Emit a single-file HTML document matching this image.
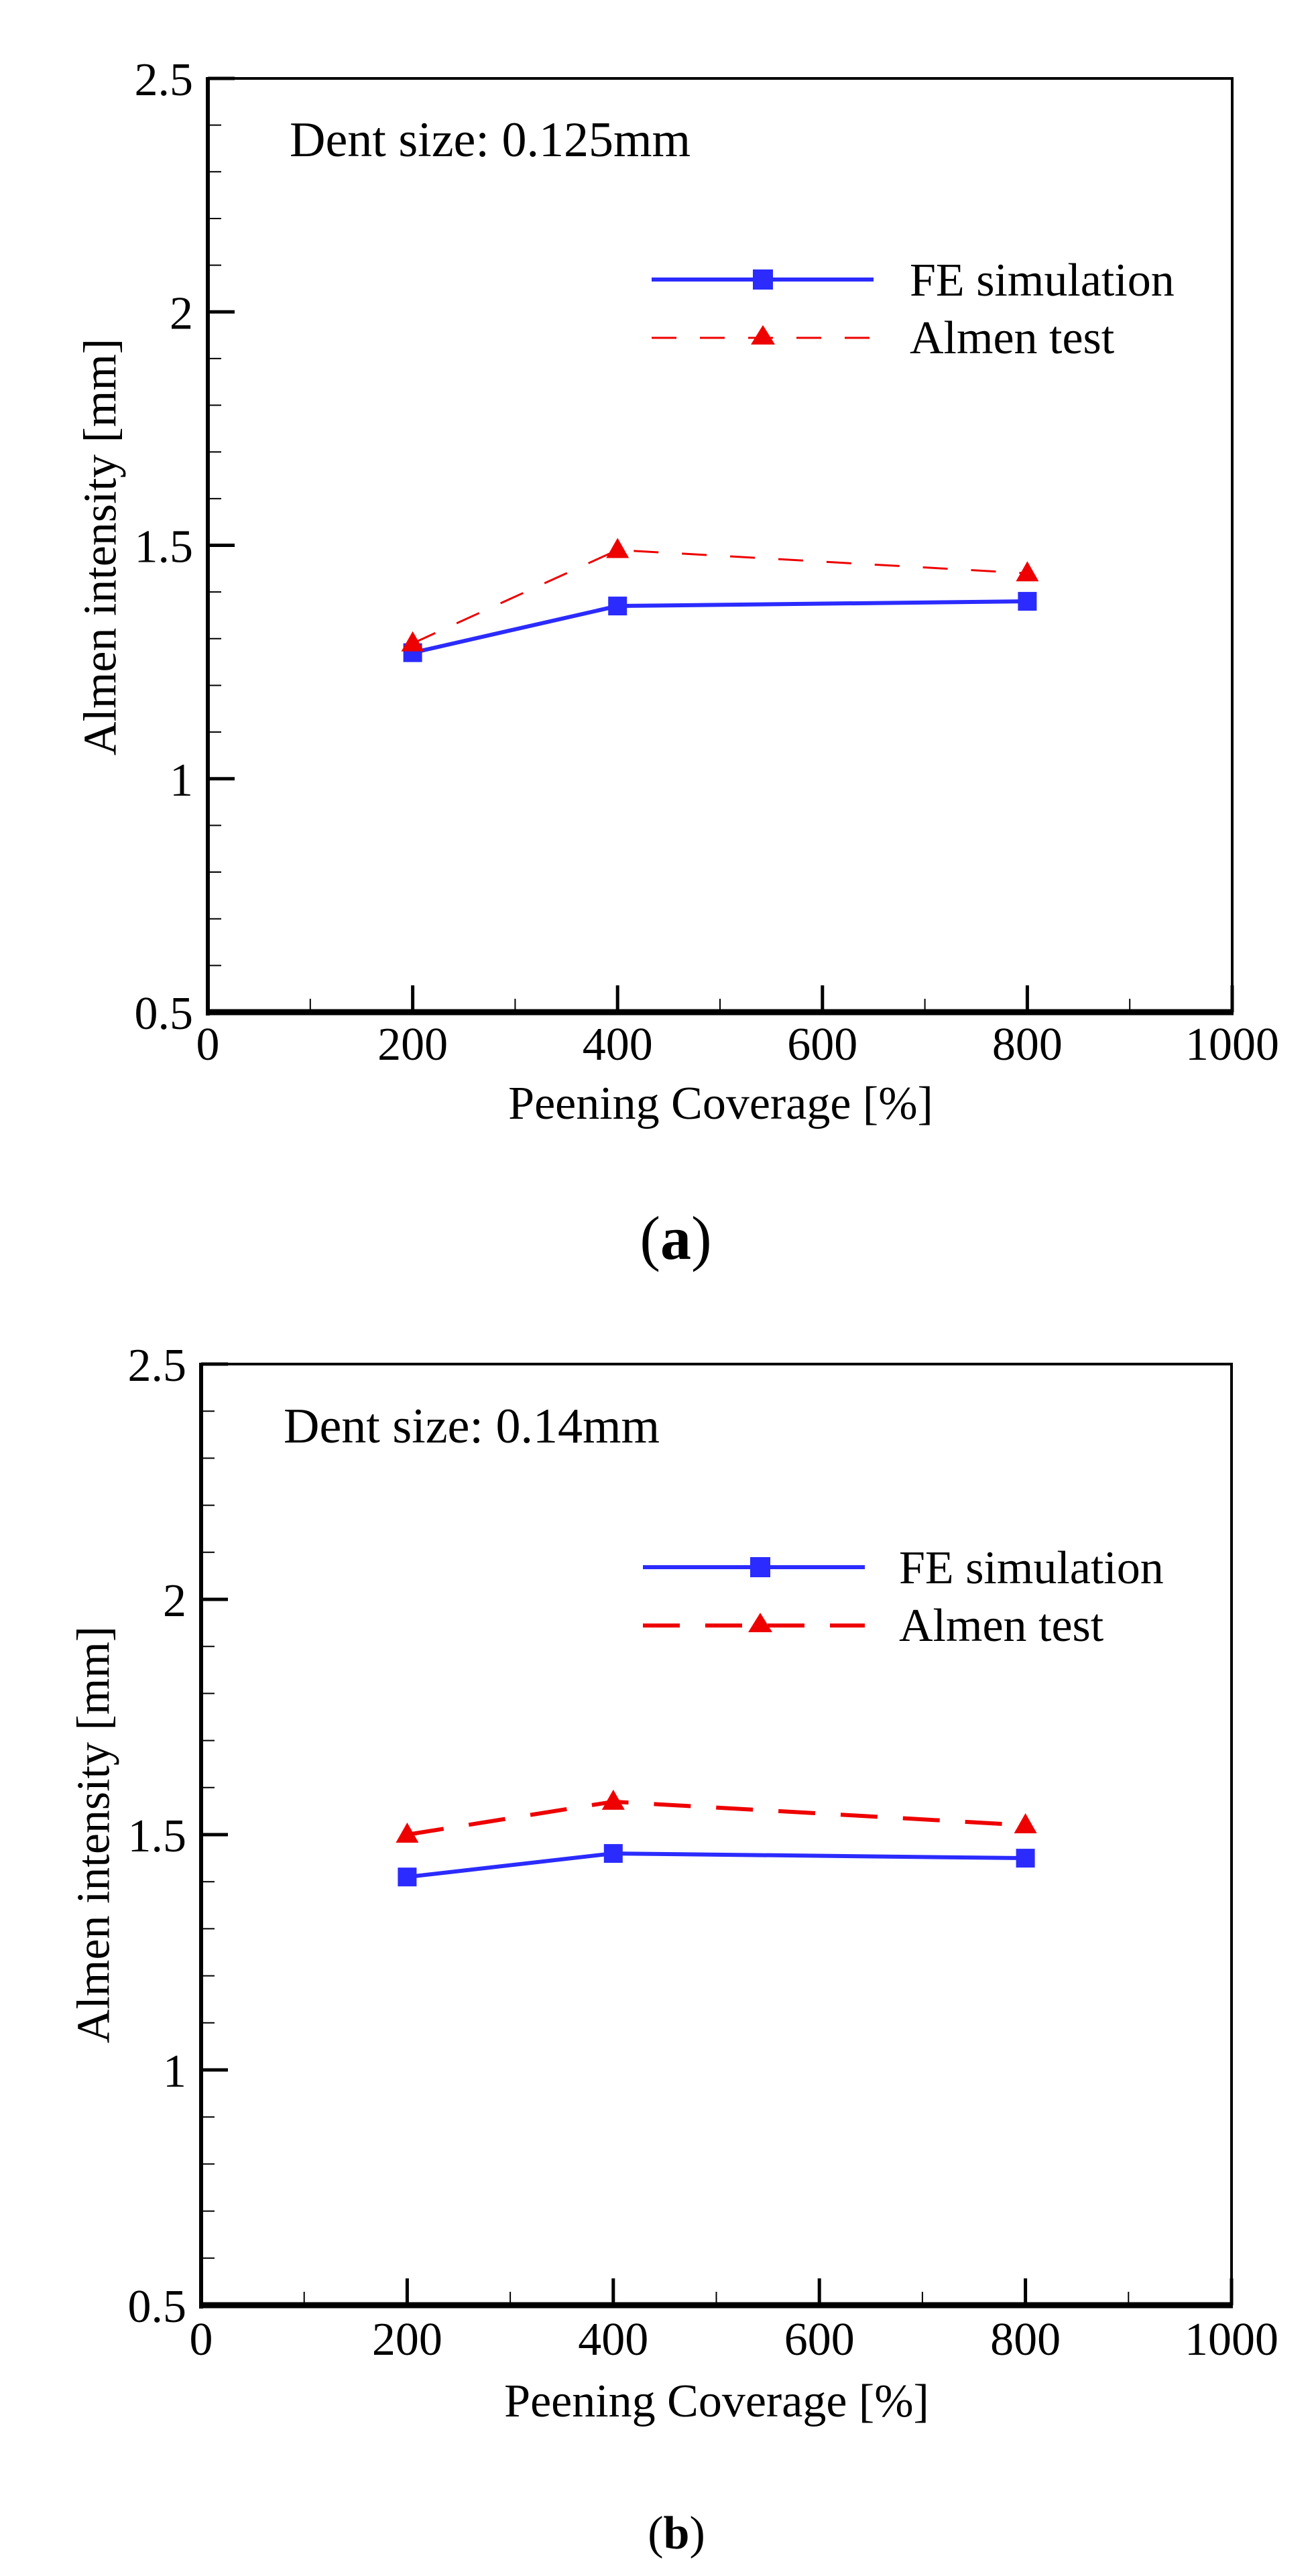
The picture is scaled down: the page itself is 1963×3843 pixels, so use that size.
<!DOCTYPE html>
<html><head><meta charset="utf-8">
<style>
html,body{margin:0;padding:0;background:#fff;}
svg{display:block;}
text{font-family:"Liberation Serif",serif;fill:#000;}
</style></head>
<body>
<svg id="fig" width="1963" height="3843" viewBox="0 0 1963 3843" xmlns="http://www.w3.org/2000/svg"></svg>
<script>
// ---- data ----
const coverage = [200, 400, 800];
const feA = [1.27, 1.37, 1.38];
const almenA = [1.29, 1.49, 1.44];
const feB = [1.41, 1.46, 1.45];
const almenB = [1.50, 1.57, 1.52];
const xTickLabels = ["0","200","400","600","800","1000"];
const yTickLabels = ["0.5","1","1.5","2","2.5"];
const seriesNames = ["FE simulation","Almen test"];
const panelTitles = ["Dent size: 0.125mm","Dent size: 0.14mm"];

const NS = "http://www.w3.org/2000/svg";
const svg = document.getElementById("fig");
function mk(tag, attrs, parent){
  const e = document.createElementNS(NS, tag);
  for (const k in attrs) e.setAttribute(k, attrs[k]);
  (parent||svg).appendChild(e);
  return e;
}

function panel(cfg){
  const g = mk("g", {});
  
  
  const {L,T,R,B} = cfg;
  const xs = v => L + (v-0)/(1000-0)*(R-L);
  const ys = v => B - (v-0.5)/(2.5-0.5)*(B-T);

  const frame = mk("path", {d:`M${L},${T} H${R} V${B}`, fill:"none", stroke:"#000", "stroke-width":4}, g);
  
  
  const yAxis = mk("line", {x1:L, y1:T-2, x2:L, y2:B+5, stroke:"#000", "stroke-width":6}, g);
  
  
  const xAxis = mk("line", {x1:L-3, y1:B, x2:R+2, y2:B, stroke:"#000", "stroke-width":9}, g);
  
  

  for (let v=0; v<=1000; v+=100){
    const major = v%200===0;
    const t = mk("line", {x1:xs(v), x2:xs(v), y1:B, y2:B-(major?40:20), stroke:"#000", "stroke-width":major?5:2}, g);
    
    
  }
  xTickLabels.forEach((lab)=>{
    const v = parseFloat(lab);
    const t = mk("text", {x:xs(v), y:cfg.xLabY, "font-size":70, "text-anchor":"middle"}, g);
    t.textContent = lab;
    
    
  });
  for (let i=0;i<=20;i++){
    const v = 0.5 + i*0.1;
    const major = i%5===0;
    const t = mk("line", {x1:L, x2:L+(major?40:20), y1:ys(v), y2:ys(v), stroke:"#000", "stroke-width":major?5:2}, g);
    
    
  }
  yTickLabels.forEach((lab)=>{
    const v = parseFloat(lab);
    const t = mk("text", {x:L-22, y:ys(v)+25, "font-size":70, "text-anchor":"end"}, g);
    t.textContent = lab;
    
    
  });
  const xt = mk("text", {x:cfg.xTitleX, y:cfg.xTitleY, "font-size":70, "text-anchor":"middle"}, g);
  xt.textContent = "Peening Coverage [%]";
  
  
  const yt = mk("text", {x:0, y:0, "font-size":70, "text-anchor":"middle", transform:`translate(${cfg.yTitleX},${cfg.yTitleY}) rotate(-90)`, "dominant-baseline":"central"}, g);
  yt.textContent = "Almen intensity [mm]";
  
  
  const dt = mk("text", {x:cfg.dentX, y:cfg.dentY, "font-size":74}, g);
  dt.textContent = cfg.title;
  
  

  const blue = "#2b2bff", red = "#ee0000";
  const fePts = coverage.map((c,i)=>xs(c)+","+ys(cfg.fe[i])).join(" ");
  const feLine = mk("polyline", {points:fePts, fill:"none", stroke:blue, "stroke-width":6}, g);
  
  
  const alPts = coverage.map((c,i)=>xs(c)+","+ys(cfg.al[i])).join(" ");
  const alLine = mk("polyline", {points:alPts, fill:"none", stroke:red, "stroke-width":cfg.dashW, "stroke-dasharray":cfg.dash}, g);
  
  
  coverage.forEach((c,i)=>{
    const x=xs(c), y=ys(cfg.fe[i]);
    const m = mk("rect", {x:x-14, y:y-14, width:28, height:28, fill:blue}, g);
    
    
  });
  coverage.forEach((c,i)=>{
    const x=xs(c), y=ys(cfg.al[i]);
    const m = mk("polygon", {points:`${x},${y-18} ${x-17},${y+12} ${x+17},${y+12}`, fill:red}, g);
    
    
  });

  const lg = mk("g", {}, g);
  
  
  const l1 = mk("line", {x1:cfg.legX1, x2:cfg.legX2, y1:cfg.legY1, y2:cfg.legY1, stroke:blue, "stroke-width":6}, lg);
  
  
  const m1 = mk("rect", {x:cfg.legM-15, y:cfg.legY1-15, width:30, height:30, fill:blue}, lg);
  
  
  const l2 = mk("line", {x1:cfg.legX1, x2:cfg.legX2, y1:cfg.legY2, y2:cfg.legY2, stroke:red, "stroke-width":cfg.dashW, "stroke-dasharray":cfg.dash}, lg);
  
  
  const m2 = mk("polygon", {points:`${cfg.legM},${cfg.legY2-19} ${cfg.legM-18},${cfg.legY2+10} ${cfg.legM+18},${cfg.legY2+10}`, fill:red}, lg);
  
  
  const t1 = mk("text", {x:cfg.legTX, y:cfg.legY1+24, "font-size":70}, lg);
  t1.textContent = seriesNames[0];
  
  
  const t2 = mk("text", {x:cfg.legTX, y:cfg.legY2+23, "font-size":70}, lg);
  t2.textContent = seriesNames[1];
  
  

  const cap = mk("text", {x:cfg.capX, y:cfg.capY, "font-size":cfg.capSize, "text-anchor":"middle"}, g);
  cap.innerHTML = '(<tspan font-weight="bold">'+cfg.cap+'</tspan>)';
  
  
}

panel({name:"chart-a", L:310, T:117, R:1838, B:1510, fe:feA, al:almenA, title:panelTitles[0],
  xLabY:1581, xTitleX:1075, xTitleY:1669, yTitleX:150, yTitleY:816, dentX:432, dentY:233,
  legX1:972, legX2:1303, legY1:417, legY2:504, legM:1138, legTX:1357,
  dash:"37 35", dashW:3, capX:1008, capY:1878, capSize:92, cap:"a"});
panel({name:"chart-b", L:300, T:2035, R:1837, B:3439, fe:feB, al:almenB, title:panelTitles[1],
  xLabY:3513, xTitleX:1069, xTitleY:3605, yTitleX:140, yTitleY:2737, dentX:423, dentY:2152,
  legX1:959, legX2:1290, legY1:2338, legY2:2425, legM:1134, legTX:1341,
  dash:"55 38", dashW:6, capX:1009, capY:3802, capSize:70, cap:"b"});
</script>
</body></html>
